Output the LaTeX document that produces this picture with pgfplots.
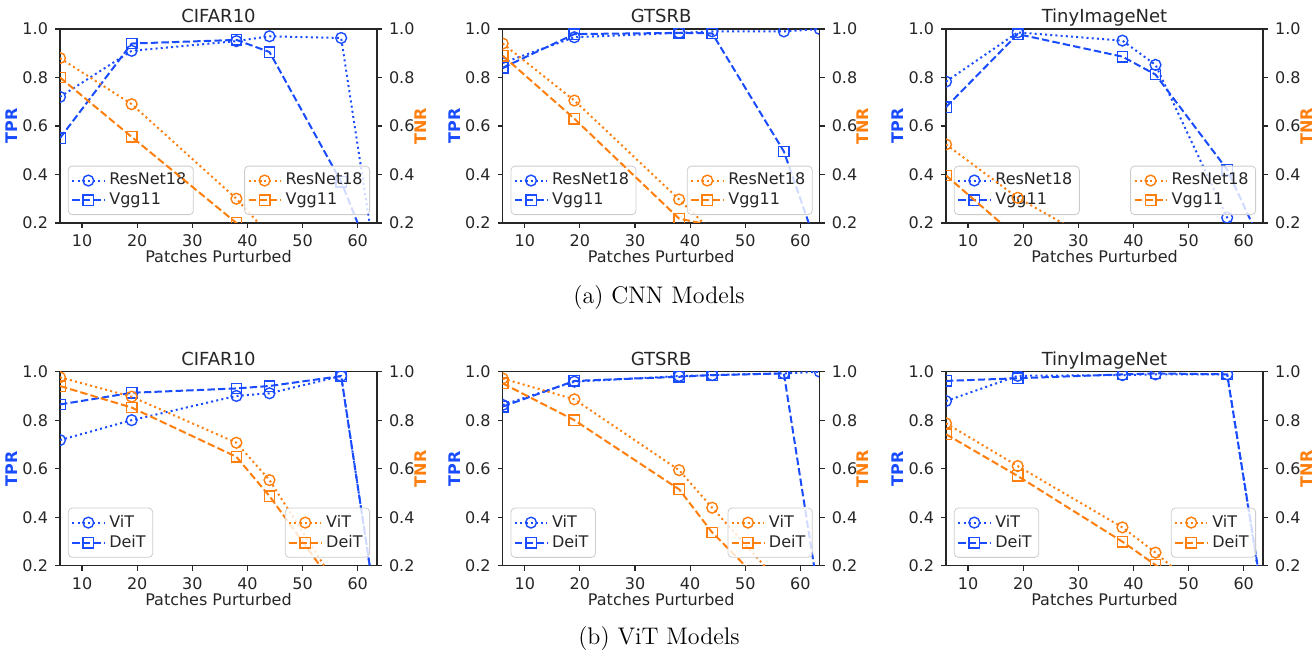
\documentclass[border=0pt]{standalone}
\usepackage{fontspec}
\setsansfont{DejaVu Sans}
\usepackage{pgfplots}
\usepackage{pgfplotstable}
\pgfplotsset{compat=1.18}

\definecolor{tprblue}{RGB}{25,75,255}
\definecolor{tnrorange}{RGB}{255,127,14}
\definecolor{txt}{RGB}{38,38,38}

% columns: x, TPR model 1, TPR model 2, TNR model 1, TNR model 2
\pgfplotstableread{
x    a     b     c     d
6    0.72  0.55  0.88  0.80
19   0.91  0.94  0.69  0.555
38   0.95  0.955 0.30  0.20
44   0.97  0.905 0.15  0.10
57   0.963 0.37  0.05  0.05
63.5 0.0   0.0   0.0   0.0
}\cnnCifar
\pgfplotstableread{
x    a     b     c     d
6    0.86  0.84  0.94  0.89
19   0.966 0.979 0.705 0.63
38   0.984 0.984 0.297 0.218
44   0.99  0.982 0.165 0.19
57   0.99  0.495 0.05  0.05
63.5 1.0   0.07  0.0   0.0
}\cnnGtsrb
\pgfplotstableread{
x    a     b     c     d
6    0.783 0.678 0.524 0.396
19   0.986 0.979 0.304 0.14
38   0.952 0.886 0.06  0.0
44   0.852 0.812 0.0   0.0
57   0.222 0.42  0.0   0.0
63.5 0.0   0.1   0.0   0.0
}\cnnTiny
\pgfplotstableread{
x    a     b     c     d
6    0.718 0.865 0.977 0.941
19   0.80  0.913 0.897 0.852
38   0.90  0.931 0.707 0.649
44   0.911 0.941 0.553 0.487
57   0.982 0.982 0.09  0.08
63.5 0.0   0.0   0.0   0.0
}\vitCifar
\pgfplotstableread{
x    a     b     c     d
6    0.863 0.856 0.972 0.952
19   0.959 0.962 0.886 0.80
38   0.982 0.979 0.594 0.515
44   0.986 0.986 0.439 0.337
57   0.993 0.993 0.11  0.04
63.5 1.0   0.05  0.0   0.0
}\vitGtsrb
\pgfplotstableread{
x    a     b     c     d
6    0.879 0.962 0.787 0.742
19   0.983 0.973 0.611 0.57
38   0.986 0.989 0.358 0.299
44   0.989 0.993 0.254 0.203
57   0.989 0.989 0.0   0.0
63.5 0.05  0.06  0.0   0.0
}\vitTiny

\pgfplotsset{
  every axis title shift=0pt,
  panel/.style={
    scale only axis, width=158.5pt, height=97pt, anchor=south west,
    xmin=6, xmax=63.5, ymin=0.2, ymax=1.0,
    xtick={10,20,30,40,50,60}, ytick={0.2,0.4,0.6,0.8,1.0},
    yticklabel style={/pgf/number format/.cd, fixed, fixed zerofill, precision=1},
    /pgf/number format/assume math mode=true,
    tick label style={font=\sffamily\fontsize{8}{9}\selectfont, text=txt},
    tick align=outside, major tick length=2.5pt,
    tick style={black!85, line width=0.6pt},
    axis line style={black!85, line width=0.6pt},
    clip marker paths=true,
    legend cell align=left,
    legend image code/.code={\draw[mark repeat=2,mark phase=2,##1] plot coordinates {(0pt,0pt) (8pt,0pt) (16pt,0pt)};},
    legend style={font=\sffamily\fontsize{8}{9}\selectfont, text=txt, draw=black!20,
      rounded corners=2pt, fill=white, fill opacity=0.8, text opacity=1,
      inner sep=1.5pt, row sep=-1.5pt},
  },
  dots/.style={line width=1pt, dash pattern=on 1pt off 1.6pt, mark=o, mark size=2.7pt,
    mark options={solid, fill=none, line width=0.7pt}},
  dashes/.style={line width=1pt, dash pattern=on 3.7pt off 1.6pt, mark=square, mark size=2.6pt,
    mark options={solid, fill=none, line width=0.7pt}},
}

% #1,#2 lower left corner, #3 title, #4 table, #5 #6 model names
\newcommand{\panel}[6]{%
  \begin{axis}[panel, at={(#1,#2)}, tick pos=left,
    title={#3}, title style={font=\sffamily\fontsize{9}{10}\selectfont, text=txt,
      at={(axis description cs:0.5,1.034)}, anchor=base},
    xlabel={Patches Purturbed}, xlabel style={font=\sffamily\fontsize{8}{9}\selectfont, text=txt,
      at={(axis description cs:0.5,-0.206)}, anchor=base},
    ylabel={TPR}, ylabel style={font=\sffamily\bfseries\fontsize{8}{9}\selectfont, text=tprblue,
      at={(axis description cs:-0.151,0.5)}, anchor=center},
    legend style={at={(0.025,0.041)}, anchor=south west}]
    \addplot[tprblue, dots] table[x=x, y=a] {#4}; \addlegendentry{#5}
    \addplot[tprblue, dashes] table[x=x, y=b] {#4}; \addlegendentry{#6}
  \end{axis}
  \begin{axis}[panel, at={(#1,#2)}, axis y line*=right, axis x line=none,
    ylabel={TNR}, ylabel style={font=\sffamily\bfseries\fontsize{8}{9}\selectfont, text=tnrorange,
      at={(axis description cs:1.137,0.5)}, anchor=center, inner sep=1pt},
    legend style={at={(0.978,0.041)}, anchor=south east}]
    \addplot[tnrorange, dots] table[x=x, y=c] {#4}; \addlegendentry{#5}
    \addplot[tnrorange, dashes] table[x=x, y=d] {#4}; \addlegendentry{#6}
  \end{axis}}

\begin{document}
\begin{tikzpicture}
  \useasboundingbox (0,0) rectangle (657.5pt,-325.5pt);
  \panel{30pt}{-111.5pt}{CIFAR10}{\cnnCifar}{ResNet18}{Vgg11}
  \panel{251.35pt}{-111.5pt}{GTSRB}{\cnnGtsrb}{ResNet18}{Vgg11}
  \panel{473pt}{-111.5pt}{TinyImageNet}{\cnnTiny}{ResNet18}{Vgg11}
  \panel{30pt}{-282.85pt}{CIFAR10}{\vitCifar}{ViT}{DeiT}
  \panel{251.35pt}{-282.85pt}{GTSRB}{\vitGtsrb}{ViT}{DeiT}
  \panel{473pt}{-282.85pt}{TinyImageNet}{\vitTiny}{ViT}{DeiT}
  \node[anchor=base, font=\rmfamily\fontsize{12}{14}\selectfont] at (329.5pt,-152pt) {(a) CNN Models};
  \node[anchor=base, font=\rmfamily\fontsize{12}{14}\selectfont] at (329.5pt,-322pt) {(b) ViT Models};
\end{tikzpicture}
\end{document}
